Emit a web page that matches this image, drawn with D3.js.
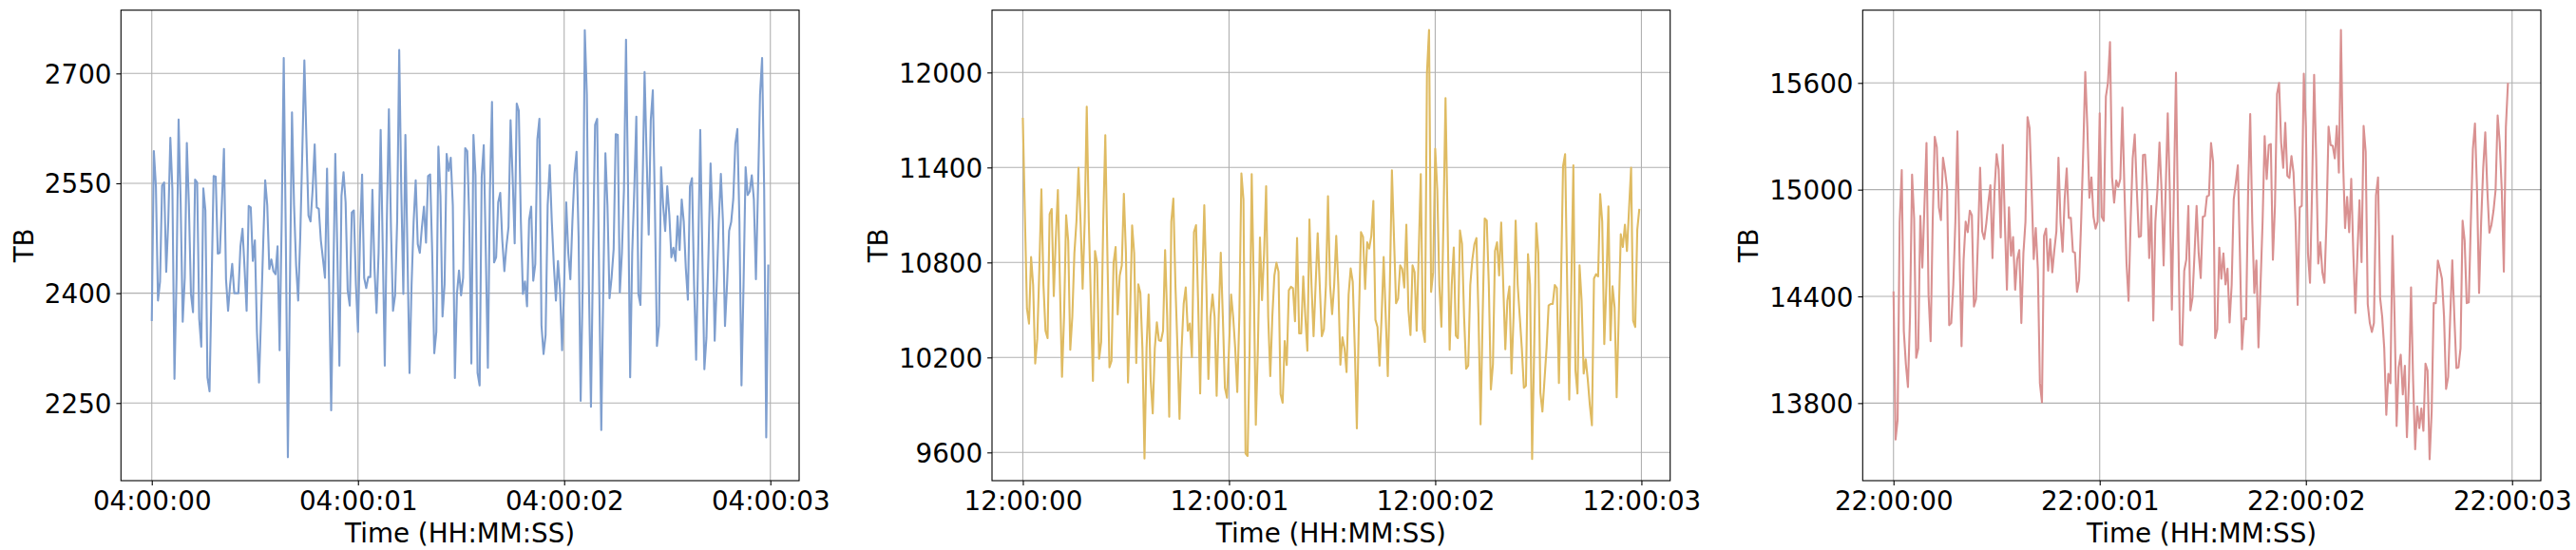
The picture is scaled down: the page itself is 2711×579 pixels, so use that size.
<!DOCTYPE html>
<html><head><meta charset="utf-8">
<script src="https://cdn.jsdelivr.net/npm/d3@7/dist/d3.min.js"></script>
<style>body{margin:0;background:#fff}svg{display:block}</style>
</head><body><svg id="c" width="2711" height="579"></svg>
<script>
// ---- data ----
const tickSeconds = [0, 1, 2, 3];
const sampleStep = 0.01; // seconds between samples
const timeLabels1 = ["04:00:00", "04:00:01", "04:00:02", "04:00:03"];
const timeLabels2 = ["12:00:00", "12:00:01", "12:00:02", "12:00:03"];
const timeLabels3 = ["22:00:00", "22:00:01", "22:00:02", "22:00:03"];
const yTicks1 = [2250, 2400, 2550, 2700];
const yTicks2 = [9600, 10200, 10800, 11400, 12000];
const yTicks3 = [13800, 14400, 15000, 15600];
const yDomain1 = [2144, 2786.4];
const yDomain2 = [9421.8, 12393.6];
const yDomain3 = [13364, 16009];
const xLabel = "Time (HH:MM:SS)";
const yLabel = "TB";

const series1 = [2362,2594,2546,2390,2416,2547,2551,2429,2498,2612,
2541,2283,2421,2637,2524,2361,2421,2605,2520,2399,
2374,2555,2551,2365,2327,2543,2513,2285,2266,2412,
2560,2559,2454,2455,2524,2597,2419,2376,2412,2440,
2400,2400,2400,2464,2488,2434,2376,2519,2517,2444,
2472,2347,2278,2369,2464,2554,2520,2433,2446,2430,
2426,2464,2322,2498,2721,2477,2176,2412,2647,2520,
2438,2390,2477,2593,2718,2610,2506,2498,2541,2603,
2517,2515,2472,2447,2421,2570,2412,2240,2412,2590,
2455,2301,2533,2565,2524,2404,2383,2510,2513,2412,
2347,2477,2562,2421,2407,2422,2422,2541,2434,2373,
2455,2623,2464,2301,2498,2651,2490,2376,2397,2498,
2732,2541,2399,2616,2455,2291,2412,2498,2554,2467,
2455,2490,2518,2469,2560,2562,2455,2318,2347,2600,
2533,2368,2412,2590,2567,2585,2520,2284,2399,2431,
2397,2421,2598,2594,2498,2304,
2616,2561,2291,2274,2559,2602,2455,2298,2541,2661,
2442,2449,2524,2537,2472,2430,2464,2490,2636,2559,
2468,2659,2649,2498,2399,2416,2382,2500,2518,2417,
2440,2610,2638,2356,2317,2343,2520,2575,2498,2438,
2390,2444,2404,2322,2412,2524,2455,2419,2498,2563,
2593,2477,2253,2412,2759,2671,2412,2245,2455,2630,
2638,2412,2213,2412,2591,2520,2393,2421,2460,2617,
2616,2401,2455,2541,2746,2541,2285,2455,2541,2641,
2399,2384,2541,2702,2585,2480,2636,2677,2520,2328,
2356,2572,2520,2485,2546,2507,2449,2462,2444,2505,
2459,2528,2498,2434,2391,2546,2557,2412,2309,2455,
2623,2455,2296,2339,2455,2577,2498,2335,2412,2498,
2563,2498,2355,2412,2485,2497,2528,2604,2624,2498,
2274,2412,2572,2534,2539,2561,2528,2419,2541,2671,
2721,2541,2203,2439];

const series2 = [11714,11100,10508,10414,10834,10658,10162,10318,10758,11262,
10658,10368,10322,11106,11138,10588,10958,11258,10658,10078,
10458,11098,10938,10248,10458,10858,11058,11398,11058,10634,
11058,11784,11058,10558,10052,10872,10798,10192,10298,11058,
11604,10858,10138,10178,10798,10898,10472,10718,10782,11234,
10858,10042,10458,11034,10858,10164,10662,10608,10258,9562,
10258,10598,10058,9846,10258,10422,10308,10304,10368,10878,
10458,9826,11058,11204,10658,10258,9812,10258,10538,10642,
10368,10414,10202,10992,11036,10558,9972,10658,11162,10658,
10064,10458,10598,10458,9958,10458,10862,10458,10008,9946,
10258,10598,10458,10258,9982,10458,11362,11198,9594,9578,
10258,11358,10658,9774,10258,10958,10562,10858,11282,10458,
10082,10458,10718,10798,10742,9968,9914,10304,10152,10624,
10646,10638,10428,10954,10352,10352,10712,10458,10242,11072,
10658,10334,10658,10984,10658,10334,10378,10658,11218,10658,
10474,10658,10968,10658,10154,10328,
10258,10108,10598,10762,10678,10258,9752,10458,10992,10962,
10632,10928,10888,10968,11188,10438,10392,10148,10458,10834,
10458,10082,10658,11382,10958,10542,10572,10782,10758,10642,
11038,10502,10342,10782,10738,10368,10858,11358,10378,10298,
11998,12268,10614,10738,11518,11258,10658,10394,11058,11838,
11058,10248,10658,10894,10338,10322,11002,10918,10458,10128,
10148,10658,10818,10914,10954,10458,9778,10458,11078,11064,
10658,9998,10158,10872,10928,10718,11052,10658,10252,10558,
10648,10098,10458,11064,10658,10458,10258,10008,10022,10852,
10658,9558,10258,11048,10858,9978,9858,10058,10258,10528,
10538,10538,10658,10638,10038,10658,11408,11484,10658,9934,
10658,11414,10118,9972,10782,10558,10098,10188,10058,9898,
9772,10698,10726,10712,11232,11058,10284,10658,11154,10308,
10650,10518,9948,10458,10978,10898,11038,10872,11138,11398,
10432,10392,11008,11138];

const series3 = [14428,13595,13707,14820,15110,14206,14019,13890,14286,15084,
14838,14054,14108,14852,14562,14909,15262,14410,14148,14820,
15297,15238,14900,14829,15180,15105,15007,14238,14250,14464,
14820,15328,14642,14120,14606,14820,14761,14882,14856,14343,
14384,14731,15123,14766,14722,14811,14927,15025,14615,14998,
15199,15114,14731,15251,14820,14437,14900,14628,14734,14437,
14610,14660,14250,14642,14820,15408,15345,14998,14610,14784,
14553,13912,13805,14740,14781,14544,14722,14535,14660,14766,
15180,14820,14651,14945,15119,14841,14841,14651,14646,14425,
14490,14820,15212,15661,15354,14954,15069,14847,14781,14820,
15429,14847,14824,15523,15600,15830,15069,14927,15051,15016,
15060,15461,14998,14588,14375,14820,15176,15310,14998,14734,
14739,15194,15197,14998,14615,14909,14264,14820,14998,15265,
14998,14574,14998,15429,14998,14325,14998,15657,14820,14131,
14125,14544,14606,14909,14321,14392,14642,14909,14642,14503,
14847,14852,14962,14968,15262,
15158,14165,14214,14674,14499,14642,14467,14556,14254,14464,
14945,15037,15137,14642,14102,14277,14271,14998,15425,14820,
14419,14601,14113,14464,14820,15301,15060,15251,15256,14606,
14909,15538,15600,15265,15123,15376,15078,15066,15189,15096,
14820,14352,14900,14909,15652,15354,14642,14476,14998,15645,
15176,14585,14704,14535,14476,14820,15354,15251,15247,15176,
15358,15096,15897,15176,14784,14959,14761,15060,14642,14307,
14642,14941,14592,15358,15212,14357,14250,14200,14250,14968,
15069,14392,14286,14108,13734,13965,13912,14740,14286,13671,
14001,14072,13849,14010,13609,13929,14451,13929,13541,13782,
13659,13769,13644,14022,13983,13484,13751,14362,14362,14601,
14553,14499,14286,13880,13947,14286,14603,14286,13997,14001,
14108,14825,14713,14362,14366,14820,15230,15372,14998,14419,
14820,15123,15322,14998,14758,14802,14882,14998,15417,15265,
14998,14539,15354,15600];

// ---- layout / style ----
const W = 2711, H = 579;
const lefts = [127.3, 1044, 1960.3];
const pw = 713.7, plotTop = 10.7, plotBottom = 506;
const ph = plotBottom - plotTop;
const xDomain = [-0.1495, 3.1395];
const colors = ["#7f9fcf", "#dfbb62", "#d99191"];
const FONT = "'DejaVu Sans', sans-serif";
const FS = 27.78;
const gridColor = "#b0b0b0";

const panels = [
  {series: series1, labels: timeLabels1, yTicks: yTicks1, yDomain: yDomain1},
  {series: series2, labels: timeLabels2, yTicks: yTicks2, yDomain: yDomain2},
  {series: series3, labels: timeLabels3, yTicks: yTicks3, yDomain: yDomain3}
];

const svg = d3.select("#c");
svg.append("rect").attr("width", W).attr("height", H).attr("fill", "#fff");

panels.forEach((p, k) => {
  const g = svg.append("g").attr("transform", `translate(${lefts[k]},${plotTop})`);
  const x = d3.scaleLinear().domain(xDomain).range([0, pw]);
  const y = d3.scaleLinear().domain(p.yDomain).range([ph, 0]);

  const clipId = "clip" + k;
  g.append("clipPath").attr("id", clipId).append("rect").attr("width", pw).attr("height", ph);

  // grid
  g.append("g").selectAll("line").data(tickSeconds).join("line")
    .attr("x1", d => x(d)).attr("x2", d => x(d)).attr("y1", 0).attr("y2", ph)
    .attr("stroke", gridColor).attr("stroke-width", 1.1);
  g.append("g").selectAll("line").data(p.yTicks).join("line")
    .attr("x1", 0).attr("x2", pw).attr("y1", d => y(d)).attr("y2", d => y(d))
    .attr("stroke", gridColor).attr("stroke-width", 1.1);

  // line
  const line = d3.line().x((d, i) => x(i * sampleStep)).y(d => y(d));
  g.append("path").datum(p.series).attr("d", line)
    .attr("fill", "none").attr("stroke", colors[k]).attr("stroke-width", 2.1)
    .attr("stroke-linejoin", "round").attr("clip-path", `url(#${clipId})`);

  // axes
  const xa = g.append("g").attr("transform", `translate(0,${ph})`)
    .call(d3.axisBottom(x).tickValues(tickSeconds).tickFormat((d, i) => p.labels[i])
      .tickSize(4.9).tickPadding(4.9));
  xa.select(".domain").remove();
  xa.selectAll("line").attr("stroke", "#000").attr("stroke-width", 1.1);
  xa.selectAll("text").attr("font-family", FONT).attr("font-size", FS).attr("fill", "#000").attr("dy", "0.76em");

  const ya = g.append("g")
    .call(d3.axisLeft(y).tickValues(p.yTicks).tickFormat(d3.format("d"))
      .tickSize(4.9).tickPadding(4.9));
  ya.select(".domain").remove();
  ya.selectAll("line").attr("stroke", "#000").attr("stroke-width", 1.1);
  ya.selectAll("text").attr("font-family", FONT).attr("font-size", FS).attr("fill", "#000").attr("dy", "0.36em");

  // spines
  g.append("rect").attr("width", pw).attr("height", ph)
    .attr("fill", "none").attr("stroke", "#000").attr("stroke-width", 1.1);

  // labels
  g.append("text").attr("x", pw / 2).attr("y", 571 - plotTop)
    .attr("text-anchor", "middle").attr("font-family", FONT).attr("font-size", FS)
    .text(xLabel);
  const bb = ya.node().getBBox();
  const bx = bb.x - 12.2;
  g.append("text").attr("transform", `translate(${bx},${ph / 2}) rotate(-90)`)
    .attr("text-anchor", "middle").attr("font-family", FONT).attr("font-size", FS)
    .text(yLabel);
});
</script></body></html>
